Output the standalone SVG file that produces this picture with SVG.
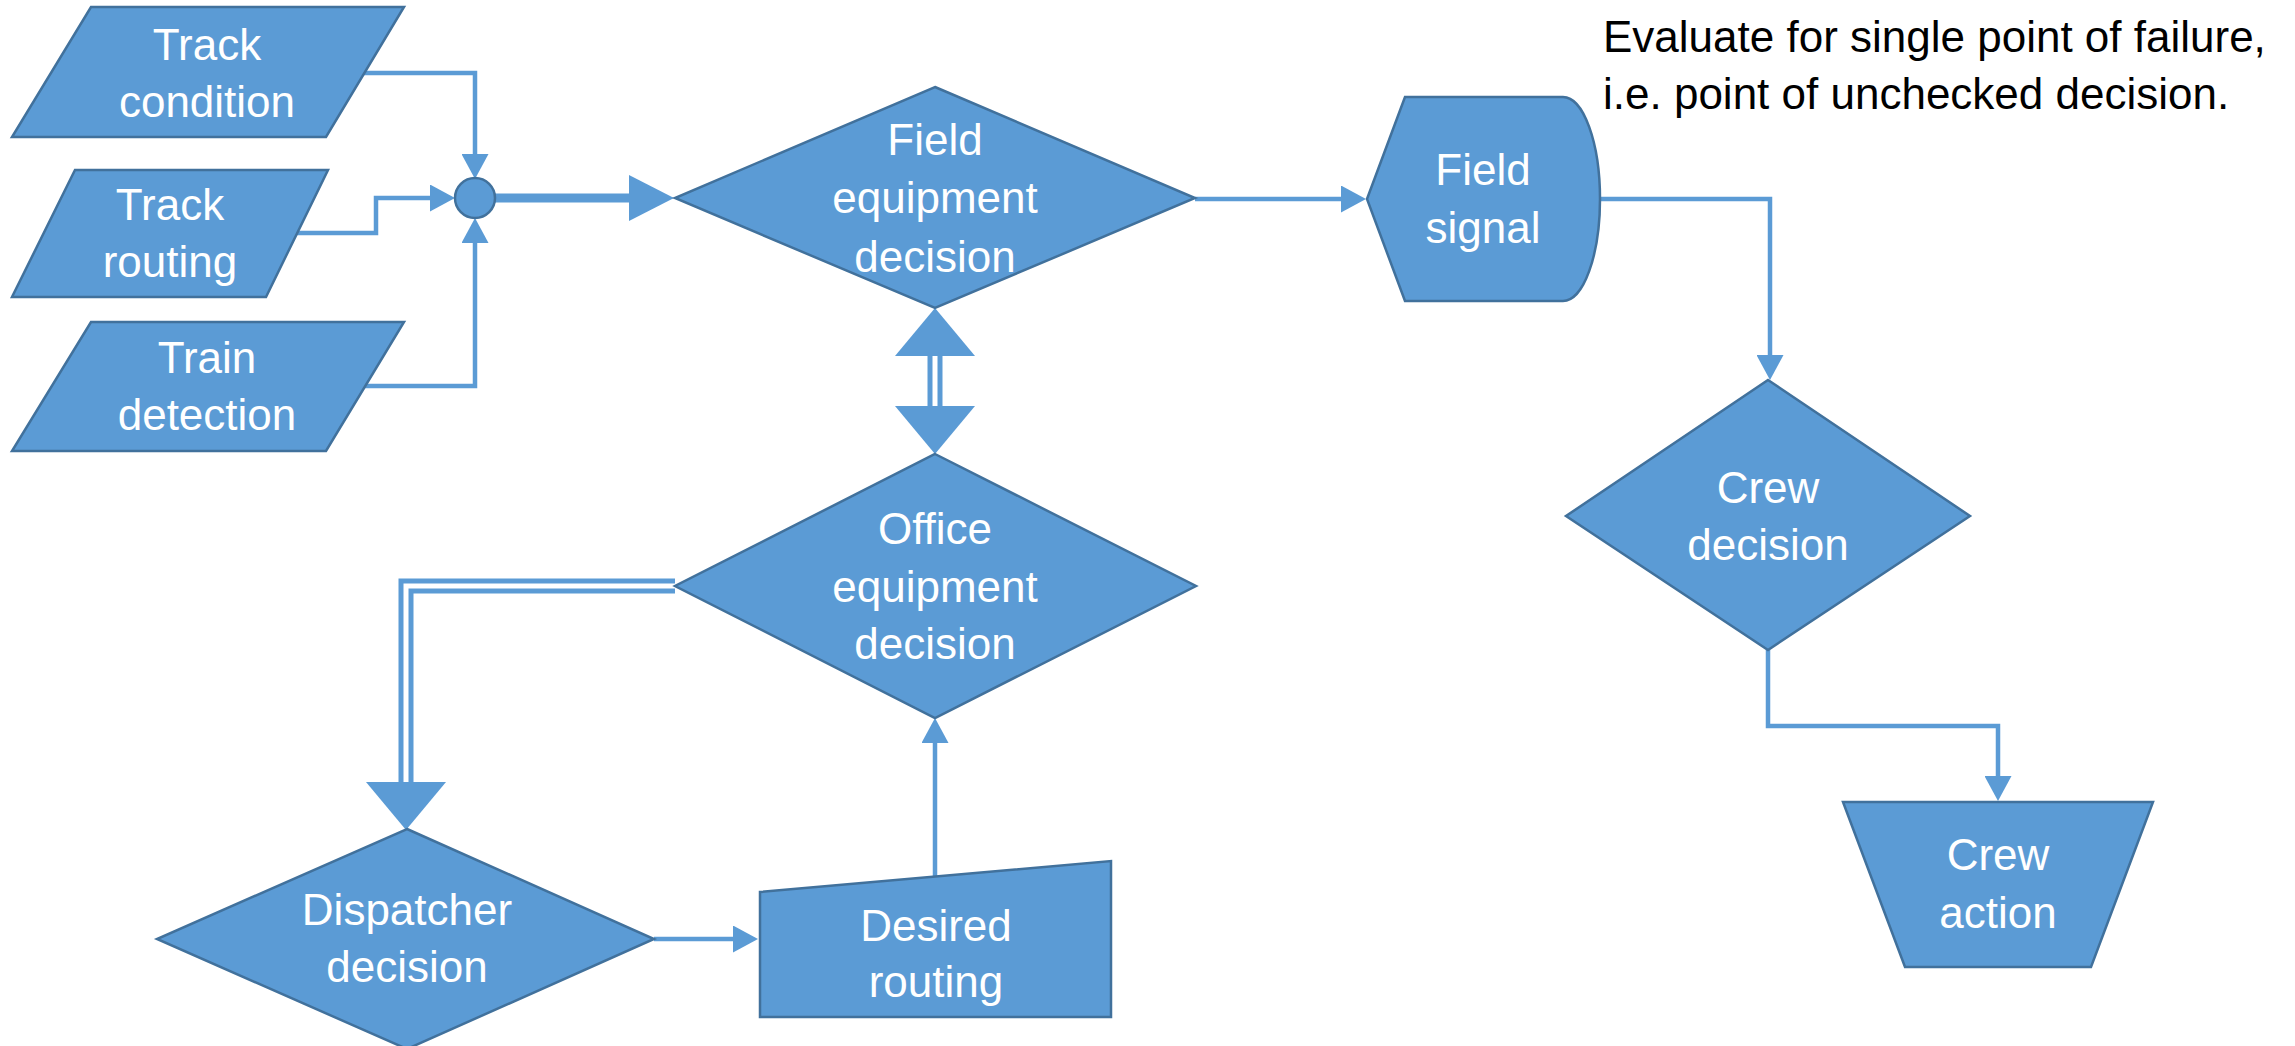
<svg xmlns="http://www.w3.org/2000/svg" width="2295" height="1046" viewBox="0 0 2295 1046">
<style>
.shape{fill:#5B9BD5;stroke:#41719C;stroke-width:2.5;stroke-linejoin:miter}
.lbl{font-family:"Liberation Sans",Arial,sans-serif;font-size:44px;fill:#FFFFFF;text-anchor:middle}
.note{font-family:"Liberation Sans",Arial,sans-serif;font-size:44px;fill:#000000}
.con{fill:none;stroke:#5B9BD5;stroke-width:4.5;stroke-linejoin:miter}
.thick{fill:none;stroke:#5B9BD5;stroke-width:9}
.dbl{fill:none;stroke:#5B9BD5;stroke-width:15;stroke-linejoin:miter}
.gap{fill:none;stroke:#FFFFFF;stroke-width:5;stroke-linejoin:miter}
</style>
<defs>
<marker id="sm" markerUnits="userSpaceOnUse" viewBox="0 0 25 27" refX="0" refY="13.5" markerWidth="25" markerHeight="27" orient="auto">
<path d="M0,0 L25,13.5 L0,27 Z" fill="#5B9BD5"/>
</marker>
<marker id="big" markerUnits="userSpaceOnUse" viewBox="0 0 45 46" refX="0" refY="23" markerWidth="45" markerHeight="46" orient="auto">
<path d="M0,0 L45,23 L0,46 Z" fill="#5B9BD5"/>
</marker>
<marker id="dblhead" markerUnits="userSpaceOnUse" viewBox="0 0 48 80" refX="0" refY="40" markerWidth="48" markerHeight="80" orient="auto-start-reverse">
<path d="M0,0 L48,40 L0,80 Z" fill="#5B9BD5"/>
</marker>
</defs>

<g id="connectors">
<path class="con" d="M364,73 H475 V154" marker-end="url(#sm)"/>
<path class="con" d="M297,233 H376 V198 H430" marker-end="url(#sm)"/>
<path class="con" d="M364,386 H475 V243" marker-end="url(#sm)"/>
<path class="thick" d="M494,198 H629" marker-end="url(#big)"/>
<path class="con" d="M1195,199 H1341" marker-end="url(#sm)"/>
<path class="con" d="M1600,199 H1770 V355" marker-end="url(#sm)"/>
<path class="con" d="M1768,650 V726 H1998 V776" marker-end="url(#sm)"/>
<path class="dbl" d="M935,356 V406" marker-start="url(#dblhead)" marker-end="url(#dblhead)"/>
<path class="gap" d="M935,356 V406"/>
<path class="dbl" d="M675,586 H406 V782" marker-end="url(#dblhead)"/>
<path class="gap" d="M675,586 H406 V782"/>
<path class="con" d="M654,939 H733" marker-end="url(#sm)"/>
<path class="con" d="M935,876 V743" marker-end="url(#sm)"/>
</g>

<g id="junction">
<circle class="shape" cx="475" cy="198" r="20"/>
</g>

<g id="track-condition">
<polygon class="shape" points="91,7 404,7 326,137 12,137"/>
<text class="lbl" x="207" y="60">Track</text>
<text class="lbl" x="207" y="117">condition</text>
</g>

<g id="track-routing">
<polygon class="shape" points="75,170 328,170 266,297 12,297"/>
<text class="lbl" x="170" y="220">Track</text>
<text class="lbl" x="170" y="277">routing</text>
</g>

<g id="train-detection">
<polygon class="shape" points="91,322 404,322 326,451 12,451"/>
<text class="lbl" x="207" y="373">Train</text>
<text class="lbl" x="207" y="430">detection</text>
</g>

<g id="field-equipment-decision">
<polygon class="shape" points="935,87 1195,198 935,308 675,198"/>
<text class="lbl" x="935" y="155">Field</text>
<text class="lbl" x="935" y="213">equipment</text>
<text class="lbl" x="935" y="272">decision</text>
</g>

<g id="field-signal">
<path class="shape" d="M1367,199 L1405,97 L1563,97 A37,102 0 0 1 1563,301 L1405,301 Z"/>
<text class="lbl" x="1483" y="185">Field</text>
<text class="lbl" x="1483" y="243">signal</text>
</g>

<g id="office-equipment-decision">
<polygon class="shape" points="935,454 1196,586 935,718 675,586"/>
<text class="lbl" x="935" y="544">Office</text>
<text class="lbl" x="935" y="602">equipment</text>
<text class="lbl" x="935" y="659">decision</text>
</g>

<g id="dispatcher-decision">
<polygon class="shape" points="407,829 654,939 407,1049 157,939"/>
<text class="lbl" x="407" y="925">Dispatcher</text>
<text class="lbl" x="407" y="982">decision</text>
</g>

<g id="desired-routing">
<polygon class="shape" points="760,892 1111,861 1111,1017 760,1017"/>
<text class="lbl" x="936" y="941">Desired</text>
<text class="lbl" x="936" y="997">routing</text>
</g>

<g id="crew-decision">
<polygon class="shape" points="1768,380 1970,516 1768,650 1566,516"/>
<text class="lbl" x="1768" y="503">Crew</text>
<text class="lbl" x="1768" y="560">decision</text>
</g>

<g id="crew-action">
<polygon class="shape" points="1843,802 2153,802 2091,967 1905,967"/>
<text class="lbl" x="1998" y="870">Crew</text>
<text class="lbl" x="1998" y="928">action</text>
</g>

<g id="note">
<text class="note" x="1603" y="52">Evaluate for single point of failure,</text>
<text class="note" x="1603" y="109">i.e. point of unchecked decision.</text>
</g>
</svg>
